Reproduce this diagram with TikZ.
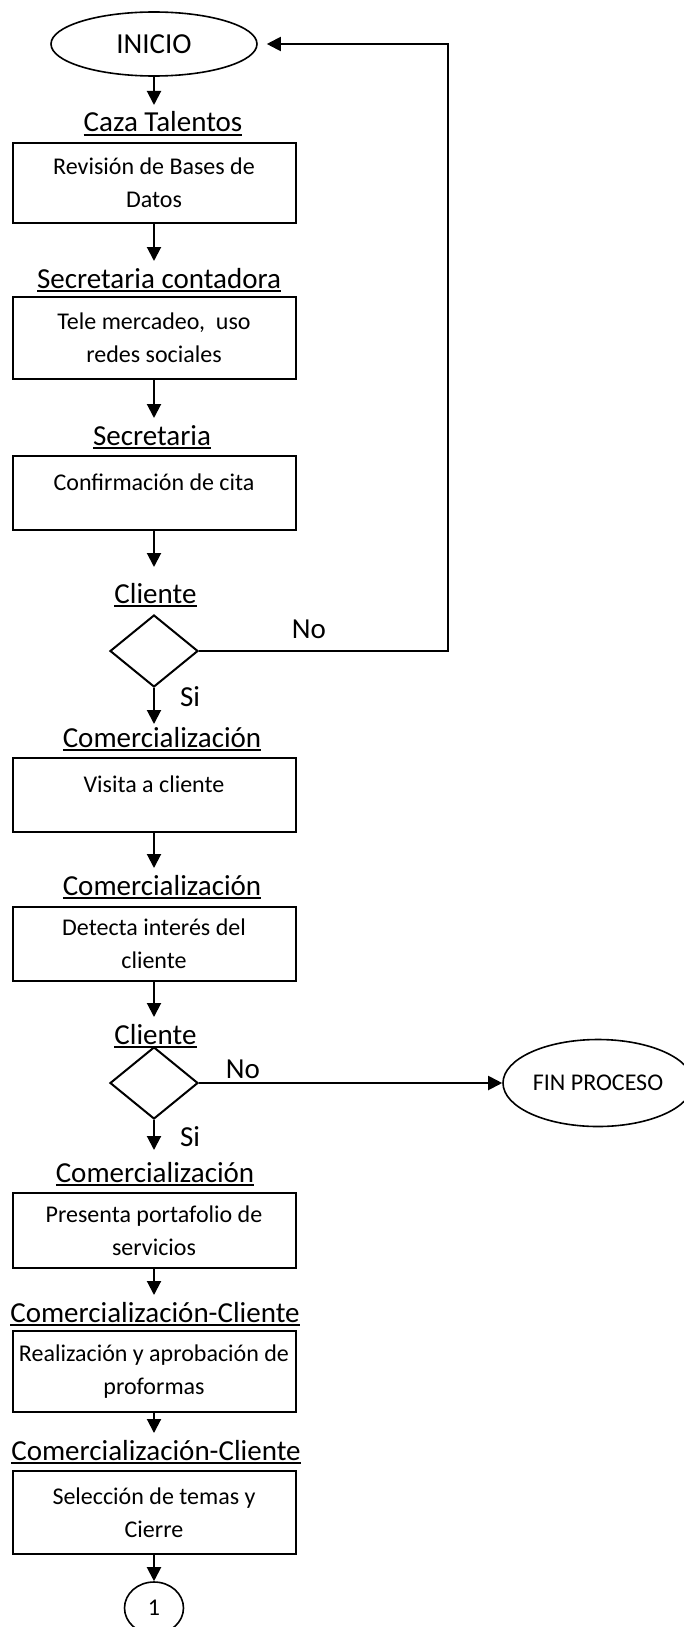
\documentclass[tikz,border=0pt]{standalone}
\usepackage{fontspec}
\setmainfont{Carlito}
\usepackage{tikz}
\usetikzlibrary{arrows.meta,shapes.geometric,calc}
\newsavebox{\rolbox}
\newcommand{\subraya}[1]{\sbox{\rolbox}{#1}\rlap{\rule[-2pt]{\wd\rolbox}{1pt}}\usebox{\rolbox}}

\begin{document}
\begin{tikzpicture}[->,>={Triangle[length=7pt,width=7pt]},line width=1pt,x=0.5pt,y=-0.5pt,
    caja/.style={draw,rectangle,minimum width=141.5pt,align=center,inner sep=2pt,font=\fontsize{12}{16.5}\selectfont},
    rotulo/.style={anchor=base,inner sep=0pt,text height=13pt,font=\fontsize{14.5}{17}\selectfont},
    terminal/.style={draw,ellipse,inner sep=0pt,line width=0.8pt},
    decision/.style={draw,diamond,minimum width=44pt,minimum height=36pt,inner sep=0pt},
    resp/.style={inner sep=0pt,font=\fontsize{14.5}{17}\selectfont}]
    \useasboundingbox (0,0) rectangle (684,1627);
		\node[terminal,minimum width=103pt,minimum height=32pt,font=\fontsize{14.5}{17}\selectfont] (inicio) at (154,44) {INICIO};
		\node[rotulo]   (caza)     at (163,132)    {\subraya{Caza Talentos}};
		\node[caja,minimum height=40pt]   (bd)       at (154,183)    {Revisión de Bases de\\Datos};
		\node[rotulo]   (seccont)  at (159,288)    {\subraya{Secretaria contadora}};
		\node[caja,minimum height=41pt]   (tele)     at (154,338)    {Tele mercadeo,~ uso\\redes sociales};
		\node[rotulo]   (secre)    at (152,445)    {\subraya{Secretaria}};
		\node[caja,minimum height=37pt,text height=9pt,text depth=12pt] (cita) at (154,493) {Confirmación de cita};
		\node[rotulo]   (cli1)     at (155.5,603)  {\subraya{Cliente}};
		\node[decision] (dec1)     at (154,651)    {};
		\node[resp]     (no1)      at (309,629)    {No};
		\node[resp]     (si1)      at (190,697)    {Si};
		\coordinate     (vuelta)   at (448,44);
		\node[rotulo]   (comer1)   at (162,747)    {\subraya{Comercialización}};
		\node[caja,minimum height=37pt,text height=9pt,text depth=12pt] (visita) at (154,795) {Visita a cliente};
		\node[rotulo]   (comer2)   at (162,895)    {\subraya{Comercialización}};
		\node[caja,minimum height=37pt]   (interes)  at (154,944)    {Detecta interés del\\cliente};
		\node[rotulo]   (cli2)     at (155.5,1044) {\subraya{Cliente}};
		\node[decision] (dec2)     at (154,1083)   {};
		\node[resp]     (no2)      at (243,1069)   {No};
		\node[resp]     (si2)      at (190,1137)   {Si};
		\node[terminal,minimum width=95pt,minimum height=43.5pt,font=\fontsize{12}{14}\selectfont] (fin) at (598,1083) {FIN PROCESO};
		\node[rotulo]   (comer3)   at (155,1182)   {\subraya{Comercialización}};
		\node[caja,minimum height=37.5pt] (porta)    at (154,1230.5) {Presenta portafolio de\\servicios};
		\node[rotulo]   (cc1)      at (155,1322)   {\subraya{Comercialización-Cliente}};
		\node[caja,minimum height=40.5pt] (proforma) at (154,1371.5) {Realización y aprobación de\\proformas};
		\node[rotulo]   (cc2)      at (156,1460)   {\subraya{Comercialización-Cliente}};
		\node[caja,minimum height=41.5pt] (cierre)   at (154,1512.5) {Selección de temas y\\Cierre};
		\node[terminal,minimum width=29.5pt,minimum height=26pt,font=\fontsize{12}{14}\selectfont] (uno) at (154,1608) {1};
		\path (inicio)   edge                      (inicio |- caza.north)
		      (bd)       edge                      (bd |- seccont.north)
		      (tele)     edge                      (tele |- secre.north)
		      (cita)     edge [shorten >=4.5pt]    (cita |- cli1.north)
		      (dec1)     edge [shorten >=-2pt]     (dec1 |- comer1.north)
		      (visita)   edge                      (visita |- comer2.north)
		      (interes)  edge                      (interes |- cli2.north)
		      (dec2)     edge                      (fin)
		                 edge [shorten >=2.5pt]    (dec2 |- comer3.north)
		      (porta)    edge                      (porta |- cc1.north)
		      (proforma) edge                      (proforma |- cc2.north)
		      (cierre)   edge                      (uno);
		\draw[shorten >=4.5pt] (dec1) -- (dec1 -| vuelta) -- (vuelta) -- (inicio);
\end{tikzpicture}
\end{document}
